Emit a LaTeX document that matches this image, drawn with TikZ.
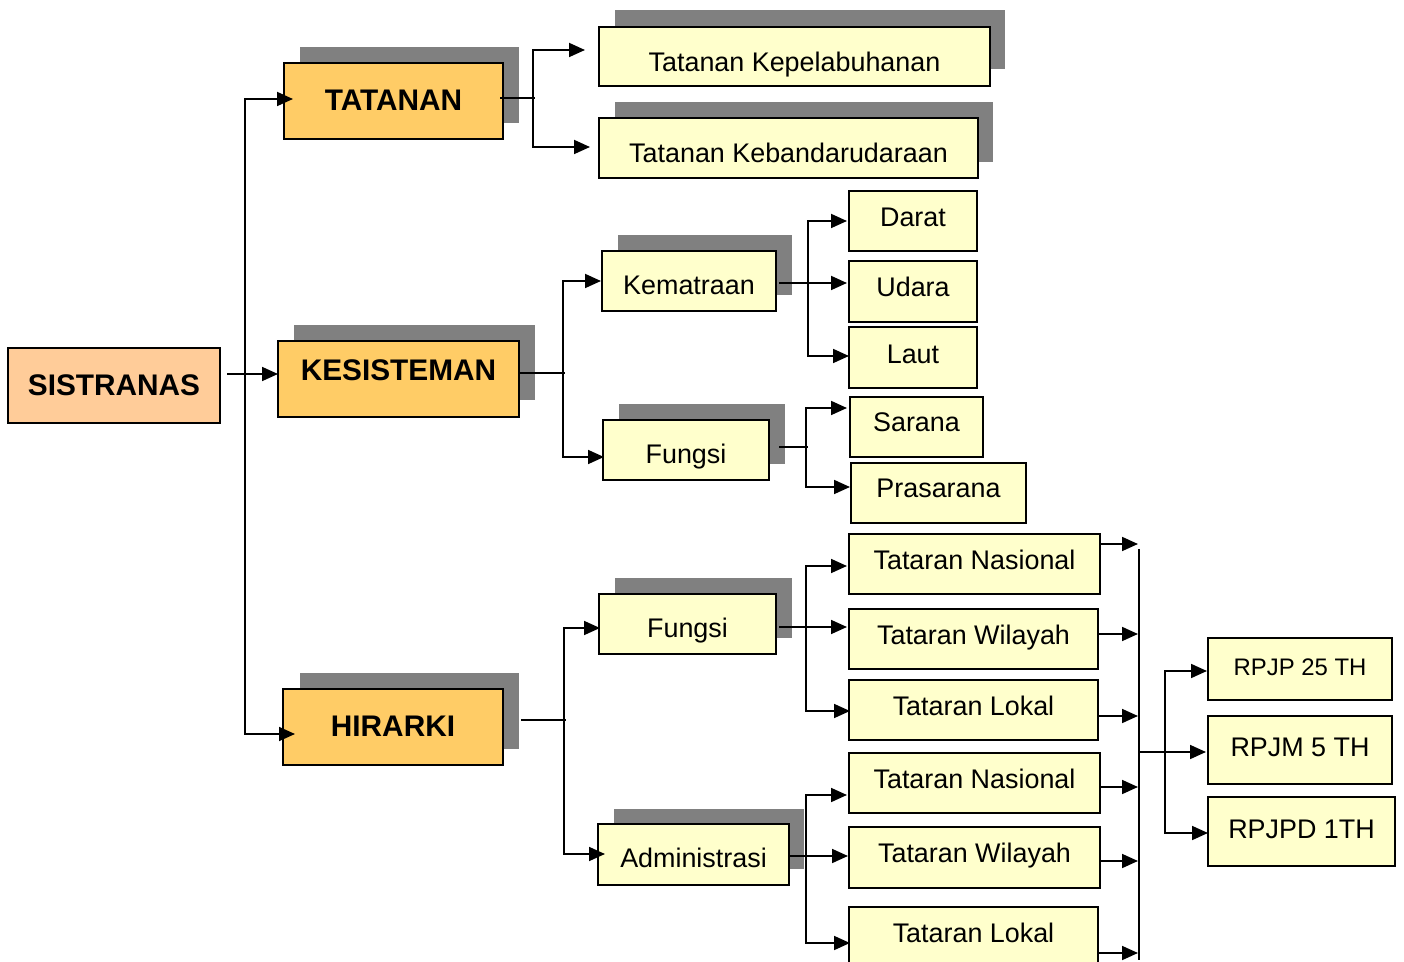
\documentclass[tikz,border=0pt]{standalone}
\usepackage{fontspec}
\setmainfont{Liberation Sans}
\usetikzlibrary{arrows.meta,calc}
\definecolor{ylw}{HTML}{FFFFCC}
\definecolor{org}{HTML}{FFCC66}
\definecolor{pch}{HTML}{FFCC99}
\definecolor{shd}{HTML}{808080}
\newcommand\dobox[9]{%
  \node[#1, minimum width={0.5*(#5-#3)}, minimum height={0.5*(#6-#4)}] (#2) at ({(#3+#5)/2},{(#4+#6)/2}) {};
  \node[#9] (#2-t) at ({(#3+#5)/2},#7) {#8};
}
\newcommand\shad[4]{\fill[shd] (#1,#2) rectangle (#3,#4);}
\begin{document}
\begin{tikzpicture}[x=0.5pt,y=-0.5pt,
  ybox/.style={draw, line width=1.1pt, fill=ylw, inner sep=0pt, outer sep=0pt},
  obox/.style={ybox, fill=org},
  pbox/.style={ybox, fill=pch},
  txt/.style={font=\fontsize{13.45}{16}\selectfont, text height=9.6pt, text depth=0pt, inner sep=0pt},
  btxt/.style={font=\bfseries\fontsize{14.9}{17}\selectfont, text height=10.7pt, text depth=0pt, inner sep=0pt},
  stxt/.style={font=\fontsize{11.95}{14}\selectfont, text height=8.6pt, text depth=0pt, inner sep=0pt},
  ln/.style={line width=0.9pt},
  arr/.style={ln, -{Triangle[length=8pt,width=7pt]}}]
\useasboundingbox (0,0) rectangle (1404,962);
\clip (0,0) rectangle (1404,962);
% shadows
\shad{300}{47}{519}{123}
\shad{615}{10}{1005}{69}
\shad{615}{102}{993}{162}
\shad{294}{325}{535}{400}
\shad{618}{235}{792}{295}
\shad{619}{404}{785}{464}
\shad{300}{673}{519}{749}
\shad{615}{578}{792}{638}
\shad{614}{809}{804}{869}
% boxes
\dobox{pbox}{sis}{8}{348}{220}{423}{385}{SISTRANAS}{btxt}
\dobox{obox}{tat}{284}{63}{503}{139}{99.5}{TATANAN}{btxt}
\dobox{obox}{kes}{278}{341}{519}{417}{370}{KESISTEMAN}{btxt}
\dobox{obox}{hir}{283}{689}{503}{765}{725.5}{HIRARKI}{btxt}
\dobox{ybox}{kep}{599}{27}{990}{86}{62}{Tatanan Kepelabuhanan}{txt}
\dobox{ybox}{keb}{599}{118}{978}{178}{153}{Tatanan Kebandarudaraan}{txt}
\dobox{ybox}{kem}{602}{251}{776}{311}{285}{Kematraan}{txt}
\dobox{ybox}{fk}{603}{420}{769}{480}{454}{Fungsi}{txt}
\dobox{ybox}{darat}{849}{191}{977}{251}{217}{Darat}{txt}
\dobox{ybox}{udara}{849}{261}{977}{322}{287}{Udara}{txt}
\dobox{ybox}{laut}{849}{327}{977}{388}{354}{Laut}{txt}
\dobox{ybox}{sar}{850}{397}{983}{457}{422}{Sarana}{txt}
\dobox{ybox}{pra}{851}{463}{1026}{523}{488}{Prasarana}{txt}
\dobox{ybox}{fh}{599}{594}{776}{654}{628}{Fungsi}{txt}
\dobox{ybox}{adm}{598}{824}{789}{885}{858}{Administrasi}{txt}
\dobox{ybox}{tn1}{849}{534}{1100}{594}{560}{Tataran Nasional}{txt}
\dobox{ybox}{tw1}{849}{609}{1098}{669}{635}{Tataran Wilayah}{txt}
\dobox{ybox}{tl1}{849}{680}{1098}{740}{706}{Tataran Lokal}{txt}
\dobox{ybox}{tn2}{849}{753}{1100}{813}{779}{Tataran Nasional}{txt}
\dobox{ybox}{tw2}{849}{827}{1100}{888}{853}{Tataran Wilayah}{txt}
\dobox{ybox}{tl2}{849}{907}{1098}{972}{933}{Tataran Lokal}{txt}
\dobox{ybox}{rpjp}{1208}{638}{1392}{700}{667}{RPJP 25 TH}{stxt}
\dobox{ybox}{rpjm}{1208}{716}{1392}{784}{747}{RPJM 5 TH}{txt}
\dobox{ybox}{rpjpd}{1208}{797}{1395}{866}{828.5}{RPJPD 1TH}{txt}
% junction coordinates
\coordinate (jS) at (245,374);
\coordinate (jT) at (533,98);
\coordinate (jK) at (563,373);
\coordinate (jKm) at (808,283);
\coordinate (jF) at (806,447);
\coordinate (jH) at (564,720);
\coordinate (jFH) at (806,627);
\coordinate (jA) at (806,856);
\coordinate (spT) at (1139,549);
\coordinate (spB) at (1139,960);
\coordinate (jM) at (1139,752);
\coordinate (jR) at (1165,752);
% connectors
\draw[arr] ($(sis.east)+(7,-11.5)$) -- ($(kes.west)+(0,-5)$);
\draw[arr] (jS) |- ($(tat.west)+(9,-2)$);
\draw[arr] (jS) |- ($(hir.west)+(12,7)$);
\draw[ln] ($(tat.east)+(-3,-3)$) -- ($(jT)+(2,0)$);
\draw[arr] (jT) |- ($(kep.west)+(-14,-6.5)$);
\draw[arr] (jT) |- ($(keb.west)+(-9,-1)$);
\draw[ln] ($(kes.east)+(0,-6)$) -- ($(jK)+(2,0)$);
\draw[arr] (jK) |- ($(kem.west)+(-1,0)$);
\draw[arr] (jK) |- ($(fk.west)+(1,7)$);
\draw[arr] ($(kem.east)+(3,2)$) -- ($(udara.west)+(-2,-8.5)$);
\draw[arr] (jKm) |- ($(darat.west)+(-2,0)$);
\draw[arr] (jKm) |- ($(laut.west)+(0,-1.5)$);
\draw[ln] ($(fk.east)+(10,-3)$) -- ($(jF)+(2,0)$);
\draw[arr] (jF) |- ($(sar.west)+(-3,-19)$);
\draw[arr] (jF) |- ($(pra.west)+(-1,-6)$);
\draw[ln] ($(hir.east)+(18,-7)$) -- ($(jH)+(2,0)$);
\draw[arr] (jH) |- ($(fh.west)+(1,4)$);
\draw[arr] (jH) |- ($(adm.west)+(7,-0.5)$);
\draw[arr] ($(fh.east)+(3,3)$) -- ($(tw1.west)+(-2,-12)$);
\draw[arr] (jFH) |- ($(tn1.west)+(-2,2)$);
\draw[arr] (jFH) |- ($(tl1.west)+(1,1)$);
\draw[arr] ($(adm.east)+(1,1.5)$) -- ($(tw2.west)+(-1,-1.5)$);
\draw[arr] (jA) |- ($(tn2.west)+(-2,12)$);
\draw[arr] (jA) |- ($(tl2.west)+(1,3.5)$);
\draw[arr] ($(tn1.east)+(0,-20)$) -- ++(38,0);
\draw[arr] ($(tw1.east)+(0,-5)$) -- ++(40,0);
\draw[arr] ($(tl1.east)+(0,6)$) -- ++(40,0);
\draw[arr] ($(tn2.east)+(0,4)$) -- ++(38,0);
\draw[arr] ($(tw2.east)+(0,3.5)$) -- ++(38,0);
\draw[arr] ($(tl2.east)+(0,13.5)$) -- ++(40,0);
\draw[ln] (spT) -- (spB);
\draw[arr] (jM) -- ($(rpjm.west)+(-2,2)$);
\draw[arr] (jR) |- ($(rpjp.west)+(-1,2)$);
\draw[arr] (jR) |- ($(rpjpd.west)+(0,1.5)$);
\end{tikzpicture}
\end{document}
